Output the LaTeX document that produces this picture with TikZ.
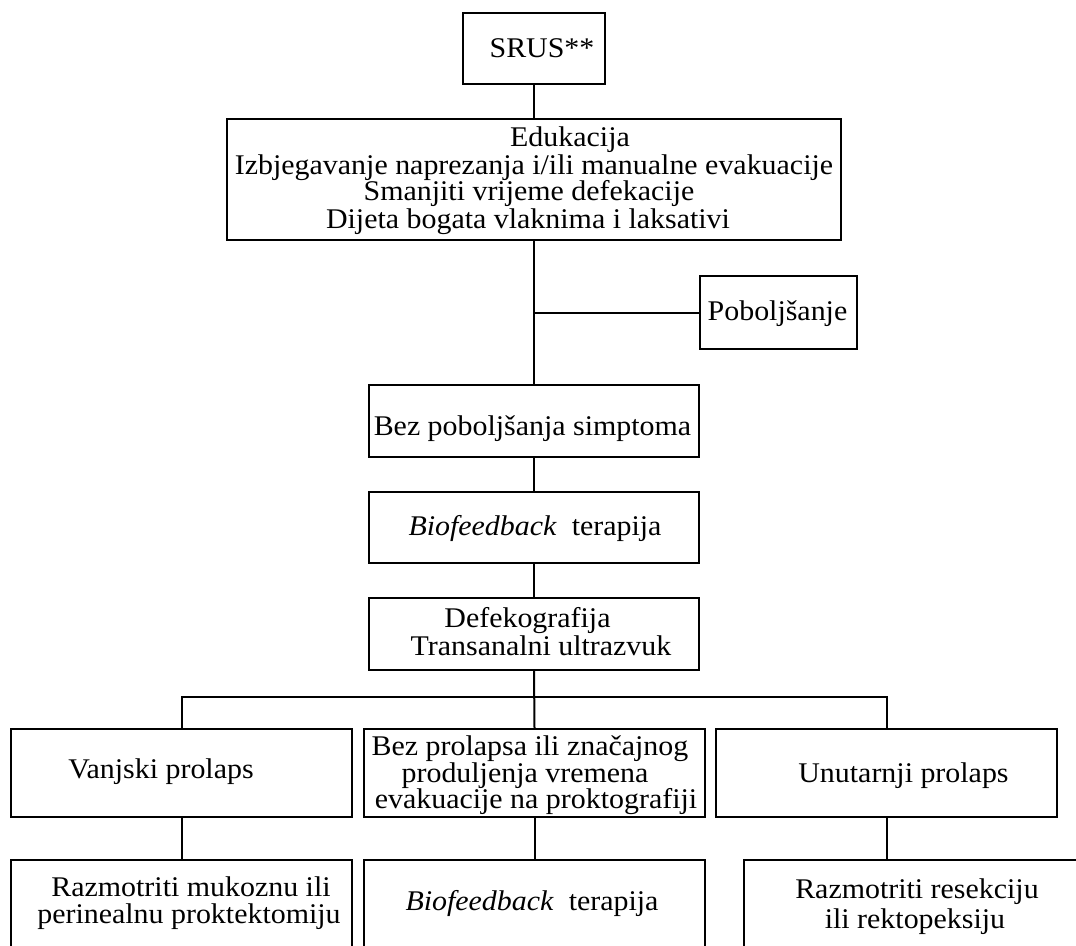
\documentclass[tikz,border=0pt]{standalone}
\usepackage{fontspec}
\setmainfont[FakeStretch=1.05]{Liberation Serif}
\begin{document}
\begin{tikzpicture}[x=1pt,y=-1pt,
  box/.style={draw, line width=2pt, inner sep=0pt},
  txt/.style={font=\fontsize{28.5}{28}\selectfont, inner sep=0pt, anchor=base},
  conn/.style={line width=2pt}]
\useasboundingbox (0,0) rectangle (1076,945);
\clip (0,0) rectangle (1076,945);
% boxes
\node[box, minimum width=142pt, minimum height=71pt] (srus) at (534,48.5) {};
\node[box, minimum width=614pt, minimum height=121pt] (edu) at (534,179.5) {};
\node[box, minimum width=157pt, minimum height=73pt] (pob) at (778.5,312.5) {};
\node[box, minimum width=330pt, minimum height=72pt] (bez) at (534,421) {};
\node[box, minimum width=330pt, minimum height=71pt] (bio) at (534,527.5) {};
\node[box, minimum width=330pt, minimum height=72pt] (def) at (534,634) {};
\node[box, minimum width=341pt, minimum height=88pt] (vanj) at (181.5,773) {};
\node[box, minimum width=341pt, minimum height=88pt] (bezpro) at (534.5,773) {};
\node[box, minimum width=341pt, minimum height=88pt] (unut) at (886.5,773) {};
\node[box, minimum width=341pt, minimum height=100pt] (razm1) at (181.5,910) {};
\node[box, minimum width=341pt, minimum height=100pt] (bio2) at (534.5,910) {};
\node[box, minimum width=341pt, minimum height=100pt] (razm2) at (914.5,910) {};
% texts
\node[txt] (t1) at (542,57) {SRUS**};
\node[txt] (t2a) at (570,146) {Edukacija};
\node[txt] (t2b) at (534,174) {Izbjegavanje naprezanja i/ili manualne evakuacije};
\node[txt] (t2c) at (529,200) {Smanjiti vrijeme defekacije};
\node[txt] (t2d) at (528,228) {Dijeta bogata vlaknima i laksativi};
\node[txt] (t3) at (777.5,320) {Poboljšanje};
\node[txt] (t4) at (532.5,435) {Bez poboljšanja simptoma};
\node[txt] (t5) at (535,535) {\textit{Biofeedback}\ \ terapija};
\node[txt] (t6a) at (527.5,627) {Defekografija};
\node[txt] (t6b) at (541,655) {Transanalni ultrazvuk};
\node[txt] (t7) at (161,778) {Vanjski prolaps};
\node[txt] (t8a) at (530,755) {Bez prolapsa ili značajnog};
\node[txt] (t8b) at (525,782) {produljenja vremena};
\node[txt] (t8c) at (536,808) {evakuacije na proktografiji};
\node[txt] (t9) at (903.5,782) {Unutarnji prolaps};
\node[txt] (t10a) at (191,896) {Razmotriti mukoznu ili};
\node[txt] (t10b) at (189,923) {perinealnu proktektomiju};
\node[txt] (t11) at (532,910) {\textit{Biofeedback}\ \ terapija};
\node[txt] (t12a) at (917,898) {Razmotriti resekciju};
\node[txt] (t12b) at (915,928) {ili rektopeksiju};
% connectors
\coordinate (bus) at (534,697);
\draw[conn] (srus.south) -- (edu.north);
\draw[conn] (edu.south) -- (bez.north);
\draw[conn] (edu.south |- pob.west) -- (pob.west);
\draw[conn] (bez.south) -- (bio.north);
\draw[conn] (bio.south) -- (def.north);
\draw[conn] (def.south) -- (bezpro.north);
\draw[conn] (vanj.north) |- (bus) -| (unut.north);
\draw[conn] (vanj.south) -- (razm1.north);
\draw[conn] (bezpro.south) -- (bio2.north);
\draw[conn] (unut.south) -- (unut.south |- razm2.north);
\end{tikzpicture}
\end{document}
